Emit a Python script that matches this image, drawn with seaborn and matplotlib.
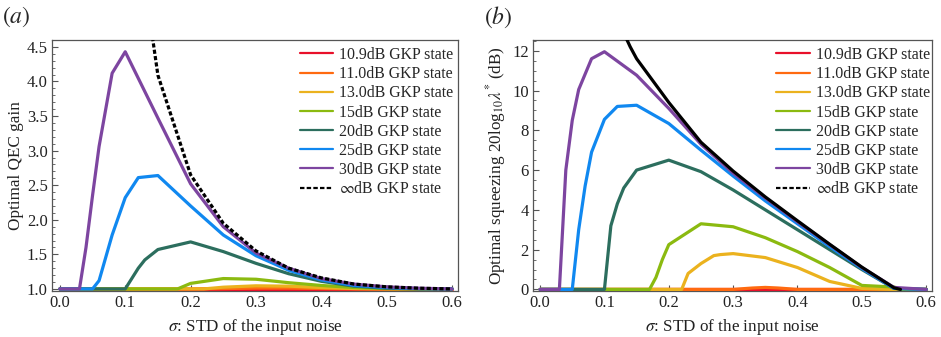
import numpy as np
import pandas as pd
import seaborn as sns
import matplotlib
matplotlib.use("Agg")
import matplotlib.pyplot as plt
from matplotlib.lines import Line2D
from matplotlib.ticker import MultipleLocator

# ---------------- data: panel (a) optimal QEC gain ----------------
labels = ["10.9dB GKP state", "11.0dB GKP state", "13.0dB GKP state", "15dB GKP state",
          "20dB GKP state", "25dB GKP state", "30dB GKP state", r"$\infty$dB GKP state"]
colors = ["#E8102A", "#FF6A10", "#EBB21E", "#8BBA10", "#2C6E5E", "#1088F0", "#7D45A0", "#000000"]

a_x_red = [0.0, 0.1, 0.2, 0.3, 0.4, 0.5, 0.6]
a_y_red = [1.0, 1.0, 1.0, 1.0, 1.0, 1.0, 1.0]
a_x_orange = [0.0, 0.1, 0.2, 0.25, 0.3, 0.35, 0.4, 0.45, 0.5, 0.6]
a_y_orange = [1.0, 1.0, 1.0, 1.005, 1.012, 1.012, 1.006, 1.002, 1.0, 1.0]
a_x_yellow = [0.0, 0.1, 0.22, 0.25, 0.3, 0.35, 0.4, 0.45, 0.5, 0.6]
a_y_yellow = [1.0, 1.0, 1.0, 1.025, 1.045, 1.04, 1.02, 1.006, 1.0, 1.0]
a_x_lgreen = [0.0, 0.1, 0.18, 0.2, 0.25, 0.3, 0.35, 0.4, 0.45, 0.5, 0.55, 0.6]
a_y_lgreen = [1.0, 1.0, 1.0, 1.08, 1.15, 1.14, 1.09, 1.05, 1.02, 1.005, 1.0, 1.0]
a_x_dgreen = [0.0, 0.1, 0.12, 0.13, 0.15, 0.2, 0.25, 0.3, 0.35, 0.4, 0.45, 0.5, 0.55, 0.6]
a_y_dgreen = [1.0, 1.0, 1.3, 1.42, 1.57, 1.68, 1.54, 1.37, 1.22, 1.11, 1.04, 1.01, 1.0, 1.0]
a_x_blue = [0.0, 0.05, 0.06, 0.08, 0.1, 0.12, 0.15, 0.2, 0.25, 0.3, 0.35, 0.4, 0.45, 0.5, 0.55, 0.6]
a_y_blue = [1.0, 1.0, 1.12, 1.78, 2.32, 2.61, 2.64, 2.2, 1.78, 1.48, 1.27, 1.13, 1.05, 1.02, 1.005, 1.0]
a_x_purple = [0.0, 0.03, 0.04, 0.05, 0.06, 0.08, 0.1, 0.15, 0.2, 0.25, 0.3, 0.35, 0.4, 0.45, 0.5, 0.55, 0.6]
a_y_purple = [1.0, 1.0, 1.6, 2.35, 3.06, 4.12, 4.43, 3.47, 2.52, 1.9, 1.52, 1.3, 1.15, 1.07, 1.03, 1.01, 1.0]
a_x_inf = [0.13, 0.14, 0.15, 0.2, 0.25, 0.3, 0.35, 0.4, 0.45, 0.5, 0.55, 0.6]
a_y_inf = [5.6, 4.75, 4.09, 2.65, 1.95, 1.55, 1.3, 1.16, 1.07, 1.03, 1.01, 1.0]

# ---------------- data: panel (b) optimal squeezing (dB) ----------------
b_x_red = [0.0, 0.1, 0.2, 0.3, 0.4, 0.5, 0.6]
b_y_red = [0.0, 0.0, 0.0, 0.0, 0.0, 0.0, 0.0]
b_x_orange = [0.0, 0.1, 0.2, 0.3, 0.33, 0.35, 0.37, 0.4, 0.5, 0.6]
b_y_orange = [0.0, 0.0, 0.0, 0.0, 0.07, 0.1, 0.07, 0.0, 0.0, 0.0]
b_x_yellow = [0.0, 0.1, 0.22, 0.23, 0.25, 0.27, 0.28, 0.3, 0.35, 0.4, 0.45, 0.5, 0.55, 0.6]
b_y_yellow = [0.0, 0.0, 0.0, 0.8, 1.3, 1.7, 1.75, 1.8, 1.6, 1.1, 0.4, 0.05, 0.0, 0.0]
b_x_lgreen = [0.0, 0.1, 0.17, 0.18, 0.19, 0.2, 0.25, 0.3, 0.35, 0.4, 0.45, 0.5, 0.55, 0.56, 0.6]
b_y_lgreen = [0.0, 0.0, 0.0, 0.6, 1.5, 2.25, 3.3, 3.15, 2.6, 1.9, 1.1, 0.2, 0.12, 0.0, 0.0]
b_x_dgreen = [0.0, 0.1, 0.11, 0.12, 0.13, 0.15, 0.2, 0.25, 0.3, 0.35, 0.4, 0.45, 0.5, 0.55, 0.6]
b_y_dgreen = [0.0, 0.0, 3.2, 4.3, 5.1, 6.0, 6.5, 5.92, 5.0, 4.0, 3.0, 2.0, 1.0, 0.05, 0.0]
b_x_blue = [0.0, 0.05, 0.06, 0.07, 0.08, 0.1, 0.12, 0.15, 0.2, 0.25, 0.3, 0.35, 0.4, 0.45, 0.5, 0.55, 0.6]
b_y_blue = [0.0, 0.0, 3.0, 5.2, 6.9, 8.55, 9.2, 9.26, 8.34, 7.0, 5.7, 4.45, 3.3, 2.15, 1.05, 0.05, 0.0]
b_x_purple = [0.0, 0.03, 0.04, 0.05, 0.06, 0.08, 0.1, 0.15, 0.2, 0.25, 0.3, 0.35, 0.4, 0.45, 0.5, 0.55, 0.56, 0.6]
b_y_purple = [0.0, 0.0, 6.0, 8.5, 10.05, 11.6, 11.95, 10.77, 9.1, 7.3, 5.85, 4.6, 3.4, 2.25, 1.1, 0.1, 0.08, 0.0]
b_x_inf = [0.13, 0.14, 0.15, 0.2, 0.25, 0.3, 0.35, 0.4, 0.45, 0.5, 0.55, 0.56]
b_y_inf = [12.9, 12.2, 11.6, 9.4, 7.4, 5.95, 4.65, 3.45, 2.27, 1.12, 0.08, 0.0]

a_series = [(a_x_red, a_y_red), (a_x_orange, a_y_orange), (a_x_yellow, a_y_yellow),
            (a_x_lgreen, a_y_lgreen), (a_x_dgreen, a_y_dgreen), (a_x_blue, a_y_blue),
            (a_x_purple, a_y_purple), (a_x_inf, a_y_inf)]
b_series = [(b_x_red, b_y_red), (b_x_orange, b_y_orange), (b_x_yellow, b_y_yellow),
            (b_x_lgreen, b_y_lgreen), (b_x_dgreen, b_y_dgreen), (b_x_blue, b_y_blue),
            (b_x_purple, b_y_purple), (b_x_inf, b_y_inf)]

sns.set_theme(style="ticks")
plt.rcParams["font.family"] = ["Liberation Serif", "DejaVu Serif"]
plt.rcParams["mathtext.fontset"] = "stix"
plt.rcParams["axes.edgecolor"] = "#555555"
plt.rcParams["axes.linewidth"] = 0.9

fig = plt.figure(figsize=(9.41, 3.37), dpi=100)
axa = fig.add_axes([52 / 941, 46 / 337, 406 / 941, 251 / 337])
axb = fig.add_axes([533 / 941, 46 / 337, 399 / 941, 251 / 337])


def draw(ax, series, inf_dashed):
    for i, ((xs, ys), lab, col) in enumerate(zip(series, labels, colors)):
        df = pd.DataFrame({"x": xs, "y": ys})
        is_inf = i == len(series) - 1
        ls = (0, (1.3, 0.7)) if (is_inf and inf_dashed) else "-"
        sns.lineplot(data=df, x="x", y="y", ax=ax, color=col, lw=2.3,
                     linestyle=ls, sort=False, estimator=None, legend=False,
                     zorder=3 + i if not is_inf else 12)
    handles = []
    for i, (lab, col) in enumerate(zip(labels, colors)):
        ls = (0, (2.0, 1.0)) if i == len(labels) - 1 else "-"
        handles.append(Line2D([0], [0], color=col, lw=1.6, linestyle=ls))
    ax.legend(handles, labels, loc="upper left", bbox_to_anchor=(0.61, 0.972),
              frameon=False, fontsize=11.4, handlelength=2.1, handletextpad=0.4,
              labelspacing=0.2, borderpad=0, borderaxespad=0)
    ax.set_xlim(-0.012, 0.609)
    ax.xaxis.set_major_locator(MultipleLocator(0.1))
    ax.xaxis.set_minor_locator(MultipleLocator(0.02))
    ax.xaxis.set_major_formatter(plt.FuncFormatter(lambda v, p: f"{v:.1f}"))
    ax.tick_params(which="both", direction="in", labelsize=12, colors="#555555",
                   labelcolor="#222222", pad=3)
    ax.tick_params(which="major", length=4, width=0.8)
    ax.tick_params(which="minor", length=2, width=0.6)
    ax.set_xlabel(r"$\sigma$: STD of the input noise", fontsize=12.3, color="#222222", labelpad=4)


draw(axa, a_series, True)
axa.set_ylim(0.97, 4.6)
axa.yaxis.set_major_locator(MultipleLocator(0.5))
axa.yaxis.set_minor_locator(MultipleLocator(0.1))
axa.yaxis.set_major_formatter(plt.FuncFormatter(lambda v, p: f"{v:.1f}"))
axa.set_ylabel("Optimal QEC gain", fontsize=12.3, color="#222222", labelpad=2)

draw(axb, b_series, False)
axb.set_xlim(-0.011, 0.609)
axb.set_ylim(-0.08, 12.54)
axb.yaxis.set_major_locator(MultipleLocator(2))
axb.yaxis.set_minor_locator(MultipleLocator(0.5))
axb.set_ylabel(r"Optimal squeezing 20log$_{10}\lambda^{*}$ (dB)", fontsize=12.3,
               color="#222222", labelpad=3)

fig.text(2 / 941, 1 - 17 / 337, r"$(a)$", fontsize=17, va="center", ha="left")
fig.text(484 / 941, 1 - 17 / 337, r"$(b)$", fontsize=17, va="center", ha="left")

fig.savefig("out.png", dpi=100)
